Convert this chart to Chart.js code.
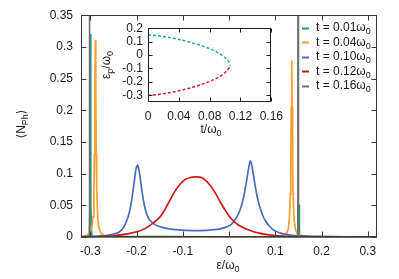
<!DOCTYPE html>
<html><head><meta charset="utf-8">
<script src="https://cdn.jsdelivr.net/npm/chart.js@4"></script>
<style>
html,body{margin:0;padding:0;background:#fff;}
#wrap{position:relative;width:399px;height:279px;overflow:hidden;}
#main{position:absolute;left:0;top:0;}
#inset{position:absolute;left:90px;top:16px;}
</style></head><body>
<div id="wrap"><canvas id="main" width="399" height="279"></canvas><canvas id="inset" width="200" height="128"></canvas></div>
<script>
const FONT = '"Liberation Sans", Arial, Helvetica, "DejaVu Sans", sans-serif';
const TXT = '#1a1a1a';

// ---- main chart data ----
const seriesLabels = ['0.01', '0.04', '0.10', '0.12', '0.16'];
const seriesColors = ['#0f9b85', '#ff9d2e', '#4a6cc0', '#cc1a1a', '#6e6e6e'];

const t001Eps = [-0.32, -0.305, -0.302, -0.3005, -0.2995, -0.2985, -0.297, -0.294, 0.148, 0.1505, 0.1510, 0.1516, 0.1522, 0.154, 0.32];
const t001N   = [0, 0.001, 0.004, 0.05, 0.32, 0.05, 0.004, 0.001, 0, 0.001, 0.05, 0.05, 0.002, 0.001, 0];

const t004Eps = [-0.32, -0.309, -0.301, -0.297, -0.294, -0.292, -0.291, -0.290, -0.289, -0.288, -0.287, -0.286, -0.284, -0.281, -0.277, -0.269, -0.25, -0.2, 0.05, 0.1, 0.116, 0.124, 0.128, 0.1306, 0.1326, 0.1336, 0.1346, 0.1356, 0.1366, 0.1376, 0.1386, 0.1406, 0.1436, 0.1476, 0.1556, 0.17, 0.2, 0.32];
const t004N   = [0.0005, 0.0022, 0.006, 0.0135, 0.032, 0.076, 0.13, 0.23, 0.311, 0.23, 0.13, 0.076, 0.032, 0.0135, 0.006, 0.0022, 0.0008, 0.0003, 0.0003, 0.001, 0.0025, 0.0055, 0.012, 0.029, 0.068, 0.117, 0.205, 0.279, 0.205, 0.117, 0.068, 0.029, 0.012, 0.0055, 0.0025, 0.0012, 0.0005, 0];

const t010Eps = [-0.32, -0.29, -0.27, -0.25, -0.238, -0.228, -0.221, -0.216, -0.212, -0.209, -0.206, -0.204, -0.202, -0.2, -0.198, -0.196, -0.194, -0.192, -0.19, -0.187, -0.184, -0.18, -0.175, -0.168, -0.16, -0.15, -0.14, -0.125, -0.11, -0.09, -0.07, -0.05, -0.03, -0.015, -0.005, 0.005, 0.012, 0.018, 0.024, 0.029, 0.033, 0.036, 0.039, 0.042, 0.044, 0.046, 0.048, 0.05, 0.053, 0.056, 0.059, 0.063, 0.068, 0.074, 0.08, 0.09, 0.1, 0.11, 0.12, 0.135, 0.15, 0.17, 0.2, 0.25, 0.32];
const t010N   = [0.0003, 0.001, 0.002, 0.0048, 0.0075, 0.015, 0.026, 0.037, 0.051, 0.065, 0.081, 0.092, 0.103, 0.11, 0.1135, 0.11, 0.103, 0.093, 0.082, 0.067, 0.054, 0.041, 0.031, 0.024, 0.0195, 0.0165, 0.0145, 0.0125, 0.0112, 0.0105, 0.0102, 0.0105, 0.0115, 0.0135, 0.016, 0.02, 0.026, 0.033, 0.043, 0.055, 0.068, 0.08, 0.093, 0.107, 0.115, 0.12, 0.117, 0.11, 0.097, 0.084, 0.071, 0.057, 0.044, 0.032, 0.024, 0.015, 0.0095, 0.0065, 0.0045, 0.0028, 0.0018, 0.001, 0.0005, 0.0002, 0];

const t012Eps = [-0.32, -0.28, -0.25, -0.22, -0.2, -0.18, -0.164, -0.15, -0.142, -0.13, -0.117, -0.105, -0.094, -0.083, -0.073, -0.06, -0.05, -0.04, -0.03, -0.02, -0.008, 0.0, 0.01, 0.02, 0.036, 0.05, 0.065, 0.08, 0.1, 0.13, 0.16, 0.2, 0.32];
const t012N   = [0, 0.0008, 0.002, 0.005, 0.008, 0.014, 0.022, 0.031, 0.039, 0.055, 0.072, 0.084, 0.091, 0.094, 0.095, 0.094, 0.089, 0.081, 0.07, 0.057, 0.042, 0.033, 0.025, 0.019, 0.013, 0.009, 0.006, 0.004, 0.0022, 0.001, 0.0005, 0.0002, 0];

const t016Eps = [-0.32, -0.3025, -0.3018, -0.3011, 0.1488, 0.1495, 0.1502, 0.32];
const t016N   = [0, 0, 1, 0, 0, 1, 0, 0];

const xTickVals = [-0.3, -0.2, -0.1, 0, 0.1, 0.2, 0.3];
const xTickLabels = ['-0.3', '-0.2', '-0.1', '0', '0.1', '0.2', '0.3'];
const yTickVals = [0, 0.05, 0.1, 0.15, 0.2, 0.25, 0.3, 0.35];
const yTickLabels = ['0', '0.05', '0.1', '0.15', '0.2', '0.25', '0.3', '0.35'];

// ---- inset data ----
const insetT     = [0, 0.01, 0.02, 0.03, 0.04, 0.05, 0.06, 0.07, 0.08, 0.09, 0.095, 0.1, 0.103, 0.105, 0.1067];
const insetUpper = [0.150, 0.146, 0.138, 0.128, 0.116, 0.103, 0.087, 0.068, 0.047, 0.020, 0.003, -0.020, -0.038, -0.052, -0.075];
const insetLower = [-0.300, -0.296, -0.288, -0.278, -0.266, -0.253, -0.237, -0.218, -0.197, -0.170, -0.153, -0.130, -0.112, -0.098, -0.075];
const insetXTickVals = [0, 0.04, 0.08, 0.12, 0.16];
const insetXTickLabels = ['0', '0.04', '0.08', '0.12', '0.16'];
const insetYTickVals = [-0.3, -0.2, -0.1, 0, 0.1, 0.2];
const insetYTickLabels = ['-0.3', '-0.2', '-0.1', '0', '0.1', '0.2'];

function pts(xs, ys) { return xs.map((x, i) => ({ x: x, y: ys[i] })); }

function drawRich(ctx, parts, x, y, size, rot, align) {
  ctx.save();
  ctx.translate(x, y);
  if (rot) ctx.rotate(rot);
  const subSize = Math.round(size * 0.75);
  let w = 0;
  parts.forEach(p => { ctx.font = (p.sub ? subSize : size) + 'px ' + FONT; w += ctx.measureText(p.t).width; });
  let cx = align === 'left' ? 0 : -w / 2;
  ctx.textBaseline = 'middle';
  ctx.textAlign = 'left';
  ctx.fillStyle = TXT;
  parts.forEach(p => {
    ctx.font = (p.sub ? subSize : size) + 'px ' + FONT;
    ctx.fillText(p.t, cx, p.sub ? size * 0.32 : 0);
    cx += ctx.measureText(p.t).width;
  });
  ctx.restore();
}

function frameTicks(chart, xs, ys, len, color) {
  const ctx = chart.ctx, a = chart.chartArea, sx = chart.scales.x, sy = chart.scales.y;
  ctx.save();
  ctx.strokeStyle = color;
  ctx.lineWidth = 1;
  const L = Math.round(a.left) + 0.5, R = Math.round(a.right) - 0.5, T = Math.round(a.top) + 0.5, B = Math.round(a.bottom) - 0.5;
  ctx.beginPath();
  xs.forEach(v => {
    const p = Math.round(sx.getPixelForValue(v)) + 0.5;
    ctx.moveTo(p, B); ctx.lineTo(p, B - len);
    ctx.moveTo(p, T); ctx.lineTo(p, T + len);
  });
  ys.forEach(v => {
    const p = Math.round(sy.getPixelForValue(v)) + 0.5;
    ctx.moveTo(L, p); ctx.lineTo(L + len, p);
    ctx.moveTo(R, p); ctx.lineTo(R - len, p);
  });
  ctx.stroke();
  ctx.strokeRect(L, T, R - L, B - T);
  ctx.restore();
}

const tickFont = { family: FONT, size: 12 };

// ---- main chart ----
const mainSets = [[t001Eps, t001N], [t004Eps, t004N], [t010Eps, t010N], [t012Eps, t012N], [t016Eps, t016N]];
new Chart(document.getElementById('main'), {
  type: 'scatter',
  data: {
    datasets: mainSets.map((s, i) => ({
      label: 't = ' + seriesLabels[i] + 'ω0',
      data: pts(s[0], s[1]),
      showLine: true,
      borderColor: seriesColors[i],
      backgroundColor: seriesColors[i],
      borderWidth: i === 4 ? 1.6 : 1.7,
      pointRadius: 0,
      cubicInterpolationMode: (i === 2 || i === 3) ? 'monotone' : 'default',
      tension: 0,
      order: 4 - i,
      clip: { left: 0, right: 0, top: 0, bottom: 2 }
    }))
  },
  options: {
    responsive: false,
    animation: false,
    devicePixelRatio: 1,
    layout: { padding: { top: 15, right: 22, left: 0, bottom: 0 } },
    plugins: { legend: { display: false }, tooltip: { enabled: false } },
    scales: {
      x: {
        type: 'linear', min: -0.32, max: 0.32,
        grid: { display: false, drawTicks: false },
        border: { display: false },
        afterBuildTicks: s => { s.ticks = xTickVals.map(v => ({ value: v })); },
        afterFit: s => { s.height = 42; },
        ticks: { font: tickFont, color: TXT, padding: 7, maxRotation: 0, autoSkip: false,
          callback: (v, i) => xTickLabels[i] }
      },
      y: {
        type: 'linear', min: 0, max: 0.35,
        grid: { display: false, drawTicks: false },
        border: { display: false },
        afterBuildTicks: s => { s.ticks = yTickVals.map(v => ({ value: v })); },
        afterFit: s => { s.width = 81; },
        ticks: { font: tickFont, color: TXT, padding: 8, autoSkip: false,
          callback: (v, i) => yTickLabels[i] }
      }
    }
  },
  plugins: [{
    id: 'decor',
    afterDraw(chart) {
      const ctx = chart.ctx;
      frameTicks(chart, xTickVals, yTickVals, 5, '#3a3a3a');
      drawRich(ctx, [{ t: 'ε/ω' }, { t: '0', sub: true }], 228, 266, 12, 0, 'center');
      drawRich(ctx, [{ t: '⟨N' }, { t: 'Ph', sub: true }, { t: '⟩' }], 22, 124, 12, -Math.PI / 2, 'center');
      seriesLabels.forEach((lab, i) => {
        const y = 28 + i * 14.4;
        ctx.save();
        ctx.strokeStyle = seriesColors[i];
        ctx.lineWidth = 2;
        ctx.beginPath(); ctx.moveTo(302, Math.round(y) + 0.5); ctx.lineTo(309, Math.round(y) + 0.5); ctx.stroke();
        ctx.restore();
        drawRich(ctx, [{ t: 't = ' + lab + 'ω' }, { t: '0', sub: true }], 316, y, 12, 0, 'left');
      });
    }
  }]
});

// ---- inset chart ----
new Chart(document.getElementById('inset'), {
  type: 'scatter',
  data: {
    datasets: [
      { label: 'upper', data: pts(insetT, insetUpper), showLine: true, borderColor: '#1fae98', borderWidth: 1.5, borderDash: [3, 2], pointRadius: 0, cubicInterpolationMode: 'monotone' },
      { label: 'lower', data: pts(insetT, insetLower), showLine: true, borderColor: '#d42424', borderWidth: 1.5, borderDash: [3, 2], pointRadius: 0, cubicInterpolationMode: 'monotone' }
    ]
  },
  options: {
    responsive: false,
    animation: false,
    devicePixelRatio: 1,
    layout: { padding: { top: 12, right: 17, left: 0, bottom: 0 } },
    plugins: { legend: { display: false }, tooltip: { enabled: false } },
    scales: {
      x: {
        type: 'linear', min: 0, max: 0.16,
        grid: { display: false, drawTicks: false },
        border: { display: false },
        afterBuildTicks: s => { s.ticks = insetXTickVals.map(v => ({ value: v })); },
        afterFit: s => { s.height = 42; },
        ticks: { font: tickFont, color: TXT, padding: 7, maxRotation: 0, autoSkip: false,
          callback: (v, i) => insetXTickLabels[i] }
      },
      y: {
        type: 'linear', min: -0.35, max: 0.2,
        grid: { display: false, drawTicks: false },
        border: { display: false },
        afterBuildTicks: s => { s.ticks = insetYTickVals.map(v => ({ value: v })); },
        afterFit: s => { s.width = 58; },
        ticks: { font: tickFont, color: TXT, padding: 5, autoSkip: false,
          callback: (v, i) => insetYTickLabels[i] }
      }
    }
  },
  plugins: [{
    id: 'insetDecor',
    beforeDatasetsDraw(chart) {
      const a = chart.chartArea, ctx = chart.ctx;
      ctx.save(); ctx.fillStyle = '#ffffff'; ctx.fillRect(a.left, a.top, a.right - a.left, a.bottom - a.top); ctx.restore();
    },
    afterDraw(chart) {
      const ctx = chart.ctx;
      frameTicks(chart, insetXTickVals, insetYTickVals, 4, '#1f1f1f');
      drawRich(ctx, [{ t: 't/ω' }, { t: '0', sub: true }], 121, 114, 12, 0, 'center');
      drawRich(ctx, [{ t: 'ε' }, { t: 'p', sub: true }, { t: '/ω' }, { t: '0', sub: true }], 17, 49, 12, -Math.PI / 2, 'center');
    }
  }]
});
</script></body></html>
